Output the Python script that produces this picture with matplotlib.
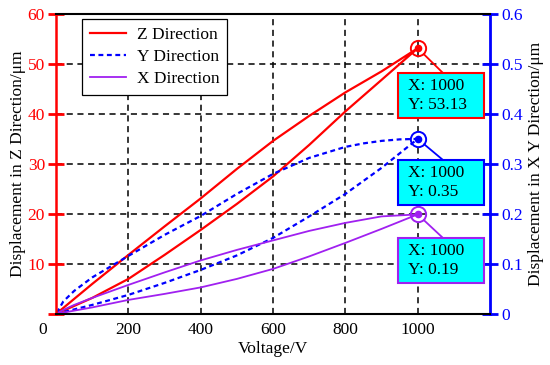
import matplotlib
matplotlib.use('Agg')
import matplotlib.pyplot as plt
import matplotlib.transforms as mtransforms
from matplotlib.patches import Rectangle

plt.rcParams['font.family'] = ['Liberation Serif', 'DejaVu Serif']

# voltage steps, loading (rising) and unloading (falling) branches
volt_up = [0, 100, 200, 300, 400, 500, 600, 700, 800, 900, 1000]
volt_down = [1000, 900, 800, 700, 600, 500, 400, 300, 200, 100, 50, 20, 0]
volt_down_y = [1000, 950, 900, 850, 800, 700, 600, 500, 400, 300, 200, 100, 50, 20, 0]

z_up = [0, 3.2, 7.0, 11.8, 16.8, 22.0, 27.5, 33.8, 40.5, 46.8, 53.13]
z_down = [53.13, 48.5, 44.3, 39.6, 34.6, 29.0, 23.1, 17.5, 11.8, 6.0, 3.0, 1.2, 0]

y_up = [0, 0.018, 0.038, 0.062, 0.088, 0.117, 0.152, 0.195, 0.240, 0.292, 0.35]
y_down = [0.35, 0.349, 0.346, 0.341, 0.334, 0.312, 0.280, 0.240, 0.196, 0.158, 0.116,
          0.073, 0.046, 0.025, 0]

x_up = [0, 0.013, 0.028, 0.040, 0.053, 0.070, 0.090, 0.115, 0.142, 0.170, 0.199]
x_down = [0.199, 0.195, 0.182, 0.166, 0.147, 0.128, 0.107, 0.083, 0.058, 0.032, 0.018, 0.008, 0]

tips = [('1000', '53.13'), ('1000', '0.35'), ('1000', '0.19')]

red = '#ff0000'
blue = '#0000ff'
purple = '#a020f0'

fig = plt.figure(figsize=(5.5, 3.65), dpi=100)
ax = fig.add_axes([0.102, 0.140, 0.789, 0.822])
ax2 = ax.twinx()

l1, = ax.plot(volt_up + volt_down[1:], z_up + z_down[1:], color=red, lw=1.6)
l2, = ax2.plot(volt_up + volt_down_y[1:], y_up + y_down[1:], color=blue, lw=1.6,
               ls=(0, (2.2, 1.6)))
l3, = ax2.plot(volt_up + volt_down[1:], x_up + x_down[1:], color=purple, lw=1.3)

ax.set_xlim(0, 1200)
ax.set_ylim(0, 60)
ax2.set_ylim(0, 0.6)
ax.set_xticks([0, 200, 400, 600, 800, 1000])
ax.set_yticks([0, 10, 20, 30, 40, 50, 60])
ax.set_yticklabels(['', '10', '20', '30', '40', '50', '60'])
ax2.set_yticks([0, 0.1, 0.2, 0.3, 0.4, 0.5, 0.6])
ax2.set_yticklabels(['0', '0.1', '0.2', '0.3', '0.4', '0.5', '0.6'])

ax.grid(True, color='black', ls=(0, (4, 3)), lw=1.1)
ax.set_axisbelow(True)

ax.tick_params(axis='x', length=0, labelsize=12.5, pad=6)
ax.tick_params(axis='y', colors=red, direction='inout', length=12, width=2,
               labelsize=12.5, pad=2)
ax2.tick_params(axis='y', colors=blue, direction='inout', length=12, width=2,
                labelsize=12.5, pad=2)

for sp in ['top', 'bottom']:
    ax2.spines[sp].set_color('black')
    ax2.spines[sp].set_linewidth(1.5)
ax2.spines['left'].set_color(red)
ax2.spines['left'].set_linewidth(1.8)
ax2.spines['right'].set_color(blue)
ax2.spines['right'].set_linewidth(2)
for sp in ax.spines.values():
    sp.set_visible(False)

# the "0" label sits a bit left of its tick in the original
lbl0 = ax.get_xticklabels()[0]
lbl0.set_transform(lbl0.get_transform() +
                   mtransforms.ScaledTranslation(-13 / 100, 0, fig.dpi_scale_trans))

ax.set_xlabel('Voltage/V', fontsize=12.5, labelpad=2)
ax.set_ylabel('Displacement in Z Direction/μm', fontsize=12.5, labelpad=1)
ax2.set_ylabel('Displacement in X Y Direction/μm', fontsize=12.5, labelpad=4)

leg = ax2.legend([l1, l2, l3], ['Z Direction', 'Y Direction', 'X Direction'],
                 loc='upper left', bbox_to_anchor=(0.06, 0.983), borderaxespad=0,
                 fontsize=12.5, fancybox=False, framealpha=1, edgecolor='black',
                 handlelength=2.1, handletextpad=0.6, borderpad=0.45,
                 labelspacing=0.35)
leg.get_frame().set_linewidth(0.9)

# data tips: box drawn in figure pixels (left, top, width, height)
tip_axes = [ax, ax2, ax2]
tip_pts = [(1000, z_up[-1]), (1000, y_up[-1]), (1000, x_up[-1])]
tip_cols = [red, blue, purple]
tip_boxes = [(398, 73, 86, 45), (398, 160, 86, 45), (398, 238, 86, 45)]
W, H = 550.0, 365.0
for a, (px, py), col, (tx, ty), (bx, by, bw, bh) in zip(tip_axes, tip_pts, tip_cols,
                                                          tips, tip_boxes):
    a.plot(px, py, 'o', ms=11, mfc='none', mec=col, mew=1.4, clip_on=False, zorder=6)
    a.plot(px, py, 'o', ms=4.5, color=col, zorder=6)
    a.annotate('', xy=(px, py), xytext=((bx + 45) / W, 1 - by / H),
               textcoords='figure fraction',
               arrowprops=dict(arrowstyle='-', color=col, lw=1.3,
                               shrinkA=0, shrinkB=6), zorder=7)
    fig.patches.append(Rectangle((bx / W, 1 - (by + bh) / H), bw / W, bh / H,
                                 transform=fig.transFigure, fc='#00ffff', ec=col,
                                 lw=1.5, zorder=8))
    fig.text((bx + 10) / W, 1 - (by + bh / 2) / H, 'X: ' + tx + '\nY: ' + ty,
             ha='left', va='center', fontsize=12.5, linespacing=1.3, zorder=9)

fig.savefig('out.png', dpi=100)
